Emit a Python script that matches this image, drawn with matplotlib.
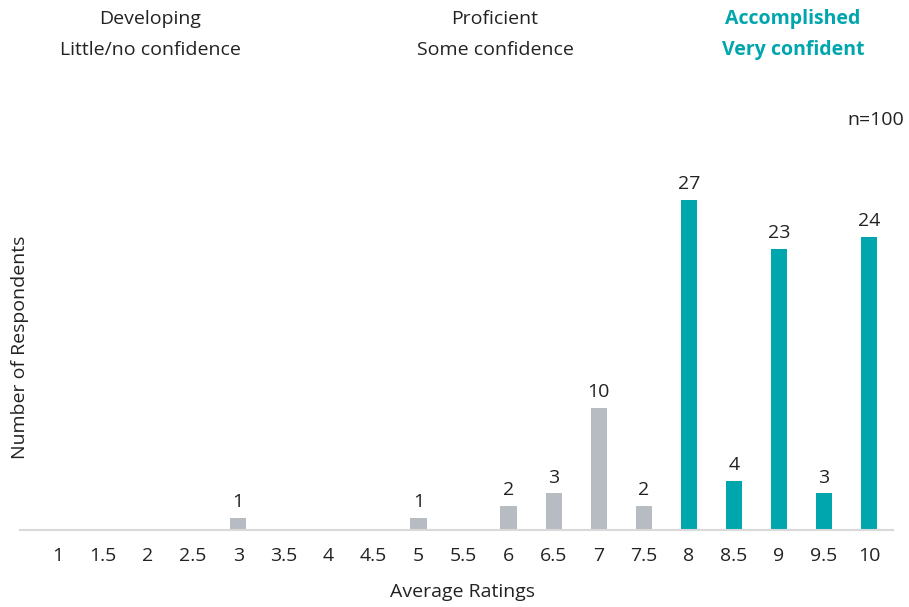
import matplotlib
matplotlib.use("Agg")
import matplotlib.pyplot as plt

categories = ["1", "1.5", "2", "2.5", "3", "3.5", "4", "4.5", "5", "5.5",
              "6", "6.5", "7", "7.5", "8", "8.5", "9", "9.5", "10"]
values = [0, 0, 0, 0, 1, 0, 0, 0, 1, 0, 2, 3, 10, 2, 27, 4, 23, 3, 24]
accomplished_from = 8.0

GREY = "#B6BCC2"
TEAL = "#00A6AE"
TEXT = "#222222"
FS = 14

plt.rcParams["font.family"] = ["Open Sans", "DejaVu Sans"]

fig = plt.figure(figsize=(9.09, 6.07), dpi=100)
W, H = 909, 607
left, right = 20 / W, 893 / W
bottom = (H - 530) / H
ax = fig.add_axes([left, bottom, right - left, 366.6 / H])

x = list(range(len(categories)))
colors = [TEAL if float(c) >= accomplished_from else GREY for c in categories]
bars = ax.bar(x, values, width=0.36, color=colors)
for xi, v in zip(x, values):
    if v > 0:
        ax.text(xi, v + 0.55, str(v), ha="center", va="bottom", fontsize=FS, color=TEXT)

ax.set_xlim(-0.84, 18.53)
ax.set_ylim(0, 30)
ax.set_xticks(x)
ax.set_xticklabels(categories, fontsize=FS, color=TEXT)
ax.tick_params(axis="x", length=0, pad=12)
ax.set_yticks([])
for s in ["top", "right", "left"]:
    ax.spines[s].set_visible(False)
ax.spines["bottom"].set_color("#D9D9D9")
ax.spines["bottom"].set_linewidth(1.5)

fig.text(463 / W, 1 - 592 / H, "Average Ratings", ha="center", va="center", fontsize=FS, color=TEXT)
fig.text(20 / W, 1 - 347 / H, "Number of Respondents", ha="center", va="center",
         rotation=90, fontsize=FS, color=TEXT)

headers = [(150, "Developing", "Little/no confidence", TEXT, "normal"),
           (495, "Proficient", "Some confidence", TEXT, "normal"),
           (793, "Accomplished", "Very confident", TEAL, "bold")]
for hx, l1, l2, col, fw in headers:
    fig.text(hx / W, 1 - 19 / H, l1, ha="center", va="center", fontsize=FS, color=col, fontweight=fw)
    fig.text(hx / W, 1 - 50 / H, l2, ha="center", va="center", fontsize=FS, color=col, fontweight=fw)
fig.text(876 / W, 1 - 120 / H, "n=100", ha="center", va="center", fontsize=FS, color=TEXT)

fig.savefig("out.png", dpi=100)
